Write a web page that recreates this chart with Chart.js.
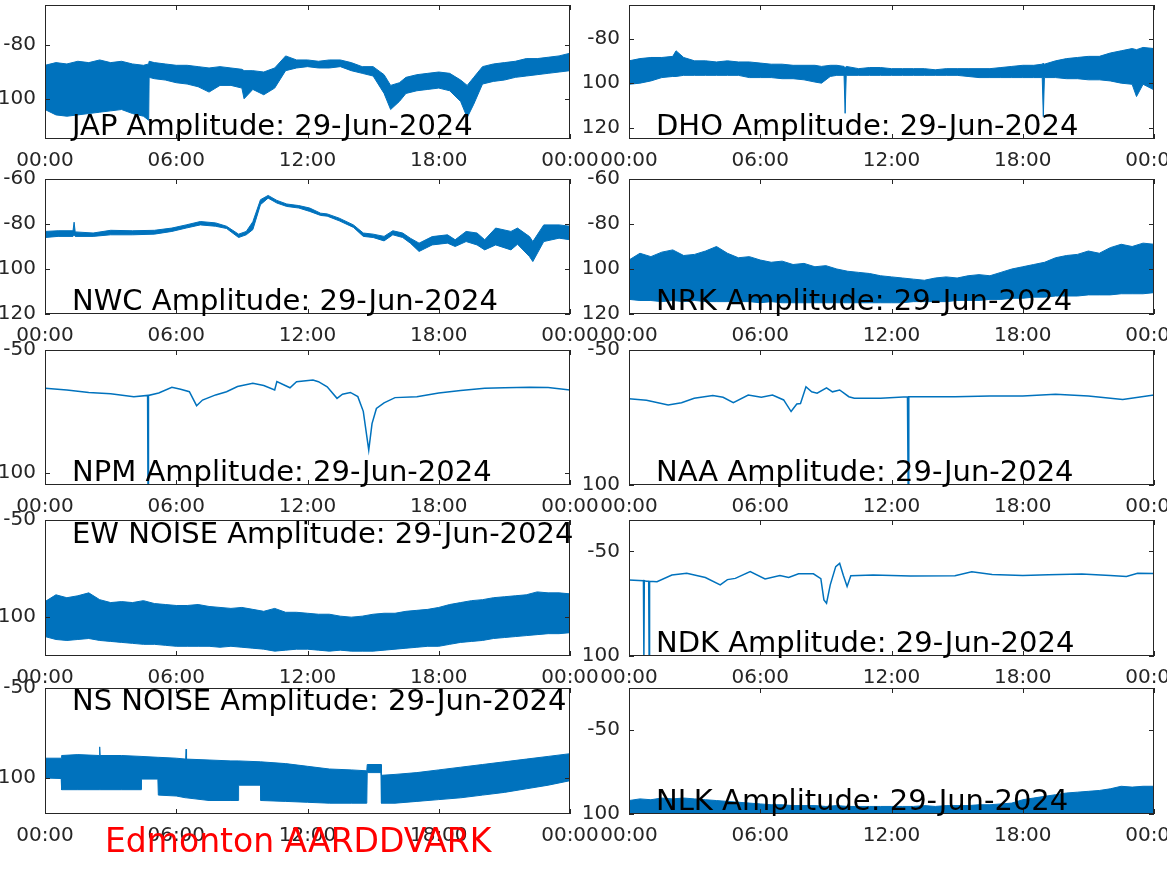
<!DOCTYPE html>
<html>
<head>
<meta charset="utf-8">
<title>Edmonton AARDDVARK amplitudes 29-Jun-2024</title>
<script src="https://cdn.jsdelivr.net/npm/chart.js@4.4.1/dist/chart.umd.min.js"></script>
<style>
	html, body { margin: 0; padding: 0; background: #fff; }
	#figure { position: relative; width: 1167px; height: 875px; overflow: hidden; background: #fff; font-family: 'DejaVu Sans', sans-serif; }
	#figure canvas { position: absolute; }
	.panel-title { position: absolute; font-size: 29px; line-height: 29px; color: #000; white-space: nowrap; }
	.footer { position: absolute; left: 105px; top: 824px; font-size: 33px; line-height: 33px; color: #ff0000; white-space: nowrap; }
</style>
</head>
<body>
<div id="figure"></div>
<script>
// x axis: hours of the day
const xTickHours = [0, 6, 12, 18, 24];
const xTickLabels = ['00:00', '06:00', '12:00', '18:00', '00:00'];
const halfHours = [0, 0.5, 1, 1.5, 2, 2.5, 3, 3.5, 4, 4.5, 5, 5.5, 6, 6.5, 7, 7.5, 8, 8.5, 9, 9.5, 10, 10.5, 11, 11.5, 12, 12.5, 13, 13.5, 14, 14.5, 15, 15.5, 16, 16.5, 17, 17.5, 18, 18.5, 19, 19.5, 20, 20.5, 21, 21.5, 22, 22.5, 23, 23.5, 24];

// JAP (noisy band, upper / lower envelope)
const japHours = [0, 0.5, 1, 1.5, 2, 2.5, 3, 3.5, 4, 4.5, 4.74, 4.76, 5, 5.5, 6, 6.5, 7, 7.5, 8, 8.5, 9, 9.1, 9.5, 10, 10.5, 11, 11.5, 12, 12.5, 13, 13.5, 14, 14.5, 15, 15.5, 15.8, 16.2, 16.5, 17, 17.5, 18, 18.5, 19, 19.3, 19.6, 20, 20.5, 21, 21.5, 22, 22.5, 23, 23.5, 24];
const japUpper = [-87.5, -86.5, -87, -86, -86.5, -85.5, -86.5, -86, -87, -87.5, -87, -86, -86.5, -87, -87.5, -87.5, -88, -88.5, -88, -88.5, -89, -89.5, -89.5, -90, -88.5, -84, -85.5, -85.5, -86, -85.5, -85.5, -86.5, -88, -88, -91, -95, -94, -92, -91, -90.5, -90, -90.5, -93, -95, -92, -88, -87, -86.5, -86, -85, -85, -84.5, -84, -83];
const japLower = [-104, -106, -106.5, -106, -105.5, -105, -104.5, -104, -105.5, -106.5, -108, -92, -92.5, -93, -94, -94.5, -95.5, -97.5, -95, -95, -96, -100, -96.5, -98.5, -96, -89.5, -88.5, -88, -88.5, -88.5, -88, -89.5, -90.5, -91.5, -98, -104, -101, -98, -97, -96.5, -96, -97, -101, -107, -102, -94.5, -93.5, -93, -92, -91.5, -91, -90.5, -90, -89.5];
const japRange = [-115, -65];
const japTicks = [-100, -80];

// DHO
const dhoHours = [0, 0.5, 1, 1.5, 2, 2.15, 2.5, 3, 3.5, 4, 4.5, 5, 5.5, 6, 6.5, 7, 7.5, 8, 8.5, 8.8, 9.2, 9.5, 9.83, 9.88, 9.93, 10.5, 11, 11.5, 12, 12.5, 13, 13.5, 14, 14.5, 15, 15.5, 16, 16.5, 17, 17.5, 18, 18.5, 18.89, 18.94, 18.99, 19.5, 20, 20.5, 21, 21.5, 22, 22.5, 23, 23.2, 23.5, 24];
const dhoUpper = [-90, -89, -88.5, -88.5, -88, -85.5, -88.5, -90, -90, -90.5, -90, -90.5, -90.5, -91, -91.5, -91.5, -92, -92, -92, -92.5, -92, -92, -92.5, -93, -92.5, -93.5, -93, -93, -93.5, -93.5, -93.5, -93.5, -94, -93.5, -93.5, -93.5, -93.5, -93.5, -93, -92.5, -92, -92, -91.5, -91, -91.5, -90, -89, -88.5, -88, -88, -86.5, -85.5, -84.5, -85, -84, -84.5];
const dhoLower = [-100.5, -100, -99, -97.5, -97, -97, -96.5, -96.5, -96.5, -96.5, -96.5, -96.5, -97.5, -97.5, -97.5, -98, -98, -98.5, -99.5, -100, -97, -96.5, -96.5, -113.5, -96.5, -96.5, -96.5, -96.5, -96.5, -96.5, -96.5, -96.5, -96.5, -96.5, -96.5, -97, -97.5, -97.5, -97.5, -97.5, -97.5, -97.5, -97.5, -115, -97.5, -97.5, -98, -98, -98.5, -98.5, -99, -100, -100.5, -106, -100.5, -103];
const dhoRange = [-125, -65];
const dhoTicks = [-120, -100, -80];

// NWC
const nwcHours = [0, 0.6, 1.28, 1.33, 1.38, 2.2, 3, 4, 5, 5.8, 6.45, 7.1, 7.8, 8.3, 8.85, 9.2, 9.5, 9.85, 10.2, 10.6, 11.05, 11.6, 12.1, 12.6, 12.9, 13.45, 14.1, 14.55, 15, 15.5, 15.9, 16.35, 16.7, 17.1, 17.7, 18.4, 18.75, 19.25, 19.75, 20.1, 20.6, 21.3, 21.6, 22.15, 22.3, 22.8, 23.5, 24];
const nwcUpper = [-83.3, -83, -83, -79.2, -83.5, -84, -82.8, -83, -82.8, -81.8, -80.4, -78.9, -79.5, -81, -84.5, -83.3, -79, -69.2, -67.3, -69.5, -71.1, -71.8, -72.9, -75.2, -75.5, -77.4, -80.4, -84, -84.5, -85.5, -83, -84, -86.3, -88.5, -85.6, -84.8, -87, -83.3, -84, -87, -81.8, -83.3, -81.8, -85.6, -87.8, -80.4, -80.4, -81];
const nwcLower = [-86, -85.5, -85.5, -85, -85.5, -85.5, -84.8, -84.8, -84.5, -83.3, -81.8, -80.4, -81, -82, -86, -84.8, -82.5, -71.4, -68.5, -70.7, -72.2, -72.9, -74.4, -76.2, -76.5, -78.6, -81.5, -85.5, -86, -87.5, -84.8, -86, -88.5, -92.2, -89.3, -88.5, -90, -87.8, -89.3, -91.5, -89.3, -91.5, -89, -94.5, -96.7, -87.8, -86.3, -87];
const nwcRange = [-120, -60];
const nwcTicks = [-120, -100, -80, -60];

// NRK (half-hour envelope)
const nrkUpper = [-96, -93, -94.5, -92.5, -91.5, -94, -93.5, -92, -90, -93, -95, -94.5, -96, -97, -96.5, -98, -97.5, -99, -98.5, -100, -101, -101.5, -102, -103, -103.5, -104, -104.5, -105, -104, -103.5, -104, -103, -102.5, -103, -101.5, -100, -99, -98, -97, -95, -94, -93.5, -92, -93, -90.5, -89, -90, -88.5, -89];
const nrkLower = [-113.5, -114, -114, -114.5, -114, -114.5, -114, -114.5, -114.5, -114.5, -114.5, -114.5, -115, -114.5, -115, -115, -115, -115, -115, -115, -115, -115, -115, -115, -115, -115, -114.5, -114.5, -114.5, -114.5, -114, -114, -114, -113.5, -113.5, -113, -113, -112.5, -112.5, -112, -112, -112, -111.5, -111.5, -111.5, -111, -111, -111, -110.5];
const nrkRange = [-120, -60];
const nrkTicks = [-120, -100, -80, -60];

// NPM (single trace)
const npmHours = [0, 1, 2, 3, 4.06, 4.69, 4.71, 4.73, 5.2, 5.8, 6.2, 6.6, 6.93, 7.2, 7.8, 8.3, 8.8, 9.5, 10.0, 10.5, 10.6, 11.2, 11.5, 12.25, 12.5, 12.9, 13.35, 13.6, 13.96, 14.3, 14.55, 14.8, 14.95, 15.15, 15.5, 16, 17, 18, 19, 20.1, 21, 22.15, 23, 24];
const npmLevel = [-65.6, -66.3, -67.3, -67.8, -69, -68.5, -110, -68.5, -67.5, -65.2, -66, -67, -72.7, -70.4, -68.3, -67, -64.9, -63.6, -64.5, -66.3, -62.9, -65.4, -62.9, -62.2, -62.9, -65, -69.7, -68, -67.3, -69, -75, -90.8, -80, -73.8, -71.5, -69.4, -69, -67.5, -66.5, -65.6, -65.4, -65.2, -65.3, -66.3];
const npmRange = [-105, -50];
const npmTicks = [-100, -50];

// NAA
const naaHours = [0, 0.8, 1.79, 2.4, 2.98, 3.83, 4.3, 4.77, 5.45, 6.05, 6.56, 7.07, 7.41, 7.67, 7.84, 8.09, 8.35, 8.6, 9.03, 9.3, 9.63, 10.05, 10.3, 11.5, 12.73, 12.76, 12.79, 14.9, 16.5, 18, 19.5, 21, 22.57, 24];
const naaLevel = [-68.1, -68.6, -70.4, -69.5, -67.9, -66.9, -67.5, -69.5, -66.7, -67.5, -66.7, -68.5, -72.8, -70, -69.8, -63.6, -65.5, -66, -64, -65.5, -64.8, -67.3, -67.9, -67.9, -67.3, -100.5, -67.3, -67.3, -67, -67, -66.4, -67, -68.3, -66.7];
const naaRange = [-100, -50];
const naaTicks = [-100, -50];

// EW NOISE (half-hour envelope)
const ewUpper = [-92, -88.5, -90, -89, -87.5, -91, -92.5, -92, -92.5, -91.5, -93, -93.5, -94, -94, -93.5, -94.5, -95, -95.5, -95, -96, -97, -95.5, -97.5, -97.5, -98, -98.5, -98.5, -99.5, -100, -99.5, -98.5, -98, -98, -97, -96.5, -96, -95, -93.5, -92.5, -91.5, -91, -90, -89.5, -89, -88.5, -87, -87.5, -87.5, -88];
const ewLower = [-110, -111.5, -112, -111.5, -111, -112, -112.5, -113, -113.5, -114, -114, -114.5, -115, -115, -115, -115, -115.5, -115, -115.5, -116, -116.5, -117.5, -117, -116.5, -116.5, -117, -117.5, -117, -117.5, -117.5, -117.5, -117, -116.5, -116, -115.5, -115, -115, -114, -113, -112.5, -112, -111, -110.5, -110, -109.5, -109, -108.5, -108.5, -108];
const ewRange = [-120, -50];
const ewTicks = [-100, -50];

// NDK
const ndkHours = [0, 0.66, 0.68, 0.7, 0.75, 0.8, 0.9, 0.92, 0.94, 1.28, 1.96, 2.64, 3.49, 4.17, 4.5, 4.86, 5.54, 6.22, 6.9, 7.3, 7.75, 8.43, 8.77, 8.91, 9.03, 9.2, 9.45, 9.63, 9.8, 9.97, 10.14, 11.16, 12.86, 14.9, 15.67, 16.6, 18, 19.17, 20.7, 22, 22.74, 23.25, 24];
const ndkLevel = [-63.7, -64, -101, -64, -64.2, -64.3, -64.3, -101, -64.3, -64.5, -61.3, -60.5, -62.5, -66, -63.5, -62.9, -59.7, -63.2, -61.5, -62.5, -60.7, -60.7, -63, -73.2, -74.8, -66, -57.3, -55.7, -61.5, -66.8, -61.6, -61.3, -61.8, -61.6, -59.7, -61, -61.5, -61.2, -60.8, -61.5, -62, -60.5, -60.6];
const ndkRange = [-100, -35];
const ndkTicks = [-100, -50];

// NS NOISE
const nsHours = [0, 0.74, 0.76, 1.5, 2.48, 2.5, 2.52, 3.5, 4.39, 4.41, 5.16, 5.18, 6, 6.43, 6.45, 6.47, 7.5, 8.5, 8.83, 8.85, 9.85, 9.87, 11, 12, 13, 14, 14.71, 14.73, 15.36, 15.38, 16, 17, 18, 19, 20, 21, 22, 23, 24];
const nsUpper = [-89, -89, -87.5, -87, -87.5, -82.7, -87.5, -87.5, -88, -88, -88.5, -88.5, -89, -89.5, -84, -89.5, -90, -90.5, -90.5, -90.5, -91, -91, -92, -93.5, -95, -95.5, -96, -92.5, -92.5, -98.5, -98, -97, -95.5, -94, -92.5, -91, -89.5, -88, -86.5];
const nsLower = [-100, -100.3, -106.5, -106.5, -106.5, -106.5, -106.5, -106.5, -106.5, -100.6, -100.6, -109.5, -110, -111, -111, -111, -112.5, -112.5, -112.5, -104, -104, -112.5, -113, -113.5, -114, -114, -114, -97, -97, -114, -114, -113, -112, -111, -109.5, -108, -106, -104, -101.5];
const nsRange = [-120, -50];
const nsTicks = [-100, -50];

// NLK (band sits on the bottom of the axes)
const nlkUpper = [-92, -91, -91.5, -90.5, -91, -90.5, -91, -91.5, -92, -92.5, -93, -93.5, -94, -94.5, -94.5, -95, -95, -95, -95.5, -95, -95.5, -95.5, -95.5, -95.5, -95.5, -95.5, -95.5, -95, -95.5, -95, -95, -95, -94.5, -94.5, -94, -93.5, -91.5, -90.5, -89.5, -88.5, -87.5, -87, -86.5, -86, -85, -83.5, -84, -83.5, -83.5];
const nlkRange = [-100, -25];
const nlkTicks = [-100, -50];

const lineColor = '#0072BD';
const axisColor = '#262626';

const colLeft = [45, 629];
const rowTop = [5, 179, 350, 520, 688];
const rowBottom = [139, 314, 485, 656, 814];
const plotWidth = 525;
// generous canvas margins so the layout padding wins over the label overhang
const pad = { left: 45, top: 30, right: 50, bottom: 40 };

const panels = [
	{ title: 'JAP Amplitude: 29-Jun-2024', col: 0, row: 0, hours: japHours, upper: japUpper, lower: japLower, range: japRange, ticks: japTicks, baseline: 135 },
	{ title: 'DHO Amplitude: 29-Jun-2024', col: 1, row: 0, hours: dhoHours, upper: dhoUpper, lower: dhoLower, range: dhoRange, ticks: dhoTicks, baseline: 135 },
	{ title: 'NWC Amplitude: 29-Jun-2024', col: 0, row: 1, hours: nwcHours, upper: nwcUpper, lower: nwcLower, range: nwcRange, ticks: nwcTicks, baseline: 310 },
	{ title: 'NRK Amplitude: 29-Jun-2024', col: 1, row: 1, hours: halfHours, upper: nrkUpper, lower: nrkLower, range: nrkRange, ticks: nrkTicks, baseline: 310 },
	{ title: 'NPM Amplitude: 29-Jun-2024', col: 0, row: 2, hours: npmHours, level: npmLevel, range: npmRange, ticks: npmTicks, baseline: 481 },
	{ title: 'NAA Amplitude: 29-Jun-2024', col: 1, row: 2, hours: naaHours, level: naaLevel, range: naaRange, ticks: naaTicks, baseline: 481 },
	{ title: 'EW NOISE Amplitude: 29-Jun-2024', col: 0, row: 3, hours: halfHours, upper: ewUpper, lower: ewLower, range: ewRange, ticks: ewTicks, baseline: 543 },
	{ title: 'NDK Amplitude: 29-Jun-2024', col: 1, row: 3, hours: ndkHours, level: ndkLevel, range: ndkRange, ticks: ndkTicks, baseline: 652 },
	{ title: 'NS NOISE Amplitude: 29-Jun-2024', col: 0, row: 4, hours: nsHours, upper: nsUpper, lower: nsLower, range: nsRange, ticks: nsTicks, baseline: 710 },
	{ title: 'NLK Amplitude: 29-Jun-2024', col: 1, row: 4, hours: halfHours, upper: nlkUpper, range: nlkRange, ticks: nlkTicks, baseline: 810 },
];

Chart.defaults.font.family = "'DejaVu Sans', sans-serif";

// MATLAB style box with inward tick marks on all four sides
const axesBox = {
	id: 'axesBox',
	afterDraw(chart) {
		const { ctx, chartArea: a, scales: { x, y } } = chart;
		const len = 5;
		ctx.save();
		ctx.strokeStyle = axisColor;
		ctx.lineWidth = 1;
		ctx.strokeRect(a.left + 0.5, a.top + 0.5, a.width - 1, a.height - 1);
		ctx.beginPath();
		x.ticks.forEach((t) => {
			const px = Math.round(x.getPixelForValue(t.value)) + 0.5;
			ctx.moveTo(px, a.bottom); ctx.lineTo(px, a.bottom - len);
			ctx.moveTo(px, a.top); ctx.lineTo(px, a.top + len);
		});
		y.ticks.forEach((t) => {
			const py = Math.round(y.getPixelForValue(t.value)) + 0.5;
			ctx.moveTo(a.left, py); ctx.lineTo(a.left + len, py);
			ctx.moveTo(a.right, py); ctx.lineTo(a.right - len, py);
		});
		ctx.stroke();
		ctx.restore();
	}
};

const toPoints = (hours, values) => hours.map((h, i) => ({ x: h, y: values[i] }));

const buildDatasets = (panel) => {
	if (panel.level) {
		return [{ data: toPoints(panel.hours, panel.level), borderColor: lineColor, borderWidth: 1.5, fill: false }];
	}
	const sets = [{
		data: toPoints(panel.hours, panel.upper),
		borderColor: lineColor,
		backgroundColor: lineColor,
		borderWidth: 1,
		fill: panel.lower ? '+1' : 'start',
	}];
	if (panel.lower) {
		sets.push({ data: toPoints(panel.hours, panel.lower), borderColor: lineColor, borderWidth: 1, fill: false });
	}
	return sets;
};

const figure = document.getElementById('figure');

panels.forEach((panel) => {
	const plotTop = rowTop[panel.row];
	const plotHeight = rowBottom[panel.row] - plotTop;
	const canvas = document.createElement('canvas');
	canvas.width = plotWidth + pad.left + pad.right;
	canvas.height = plotHeight + pad.top + pad.bottom;
	canvas.style.left = (colLeft[panel.col] - pad.left) + 'px';
	canvas.style.top = (plotTop - pad.top) + 'px';
	figure.appendChild(canvas);

	new Chart(canvas, {
		type: 'line',
		data: { datasets: buildDatasets(panel) },
		options: {
			responsive: false,
			animation: false,
			devicePixelRatio: 1,
			layout: { padding: { left: 0, top: pad.top, right: pad.right, bottom: 0 } },
			plugins: { legend: { display: false }, tooltip: { enabled: false } },
			elements: { point: { radius: 0 }, line: { tension: 0 } },
			scales: {
				x: {
					type: 'linear',
					min: 0,
					max: 24,
					grid: { display: false, drawTicks: false },
					border: { display: false },
					afterBuildTicks: (scale) => { scale.ticks = xTickHours.map((value) => ({ value })); },
					afterFit: (scale) => { scale.height = pad.bottom; },
					ticks: {
						autoSkip: false,
						maxRotation: 0,
						padding: 10,
						color: axisColor,
						font: { size: 20 },
						callback: (value, index) => xTickLabels[index],
					},
				},
				y: {
					type: 'linear',
					min: panel.range[0],
					max: panel.range[1],
					grid: { display: false, drawTicks: false },
					border: { display: false },
					afterBuildTicks: (scale) => { scale.ticks = panel.ticks.map((value) => ({ value })); },
					afterFit: (scale) => { scale.width = pad.left; },
					ticks: {
						autoSkip: false,
						padding: 9,
						color: axisColor,
						font: { size: 20 },
						callback: (value) => String(value),
					},
				},
			},
		},
		plugins: [axesBox],
	});
});

panels.forEach((panel) => {
	const label = document.createElement('div');
	label.className = 'panel-title';
	label.textContent = panel.title;
	label.style.left = (colLeft[panel.col] + 27) + 'px';
	label.style.top = (panel.baseline - 24.5) + 'px';
	figure.appendChild(label);
});

const footer = document.createElement('div');
footer.className = 'footer';
footer.textContent = 'Edmonton AARDDVARK';
figure.appendChild(footer);
</script>
</body>
</html>
